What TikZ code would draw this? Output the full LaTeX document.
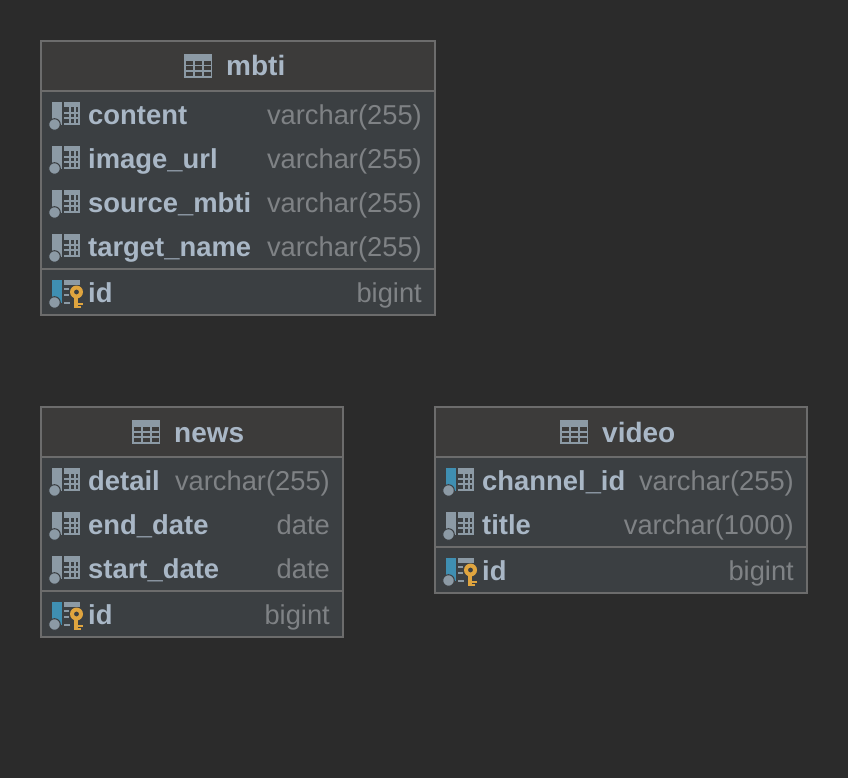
\documentclass[tikz,border=0pt]{standalone}
\usepackage{fontspec}
\setmainfont{Liberation Sans}
\usetikzlibrary{calc}
\definecolor{canvasbg}{HTML}{2B2B2B}
\definecolor{headbg}{HTML}{3C3B3A}
\definecolor{bodybg}{HTML}{3B3F42}
\definecolor{framecol}{HTML}{6C6C6C}
\definecolor{namecol}{HTML}{A9B7C6}
\definecolor{typecol}{HTML}{7F8285}
\definecolor{iconcol}{HTML}{8C9AA5}
\definecolor{flagcol}{HTML}{3F8FB2}
\definecolor{keycol}{HTML}{E0A53F}
\tikzset{%
  tbox/.style={draw=framecol,line width=1.8pt,fill=bodybg,inner sep=0,anchor=north west},
  thead/.style={tbox,fill=headbg},
  rule/.style={draw=framecol,line width=1.8pt},
  title/.style={text=namecol,font=\fontsize{28}{28}\selectfont\bfseries,inner sep=0,anchor=base west},
  cname/.style={text=namecol,font=\fontsize{27.4}{28}\selectfont\bfseries,inner sep=0,anchor=base west},
  ctype/.style={text=typecol,font=\fontsize{27.3}{28}\selectfont,inner sep=0,anchor=base east},
  grid/.pic={
    \fill[iconcol] (0,0) rectangle (28,24);
    \foreach \gx in {1.5,10.5,19.5} \foreach \gy in {7,12.5,18}
      \fill[headbg] (\gx,\gy) rectangle ++(7,3.6);
  },
  colbar/.pic={
    \fill[#1] (-12,-13) rectangle (-2.5,10);
    \filldraw[fill=iconcol,draw=bodybg,line width=1pt] (-9.5,9.5) circle (5.8);
  },
  colgrid/.pic={
    \fill[iconcol] (0,-13) rectangle (16,-7.5);
    \foreach \gy in {-2.7,2.4,7.9} \fill[iconcol] (0,\gy) rectangle (16,\gy+2);
    \foreach \gx in {5,10,14.4} \fill[iconcol] (\gx,-7.5) rectangle (\gx+1.6,10);
  },
  keyrow/.pic={
    \fill[iconcol] (0,-13) rectangle (16,-8);
    \foreach \gy in {-5,1,9} \fill[iconcol] (0,\gy) rectangle (6,\gy+2);
    \fill[bodybg] (4.5,-8) rectangle (19.5,6);
    \fill[keycol] (12.5,-1) circle (6.5);
    \fill[bodybg] (12.5,-1) circle (2.4);
    \fill[keycol] (10.3,4) rectangle (14.3,14.7);
    \fill[keycol] (14,9.5) rectangle (18.5,12.2);
    \fill[keycol] (14,12.8) rectangle (16.5,14.7);
  }
}
\begin{document}
\begin{tikzpicture}[x=1pt,y=-1pt]
  \fill[canvasbg] (0,0) rectangle (848,778);
  \useasboundingbox (0,0) rectangle (848,778);

  % mbti
  \node[tbox,minimum width=394,minimum height=274] (mbti) at (40.1,40.1) {};
  \node[thead,minimum width=394,minimum height=50] (mbtihead) at (40.1,40.1) {};
  \draw[rule] ($(mbti.south west)+(.9,-46.9)$) coordinate (mbtia) -- ($(mbti.south east)+(-.9,-46.9)$) coordinate (mbtib);
  \pic at (184,54) {grid};
  \node[title] (mbtititle) at (226,76) {mbti};
  \foreach \cname/\ctext/\cy in {content/content/115,image/image\_url/159,source/source\_mbti/203,target/target\_name/247} {
    \pic at (64,\cy) {colbar=iconcol};
    \pic at (64,\cy) {colgrid};
    \node[cname] (\cname) at (88,\cy+9.6) {\ctext};
    \node[ctype] (\cname type) at (422,\cy+9.6) {varchar(255)};
  }
  \pic at (64,293) {colbar=flagcol};
  \pic at (64,293) {keyrow};
  \node[cname] (mbtiid) at (88,302.6) {id};
  \node[ctype] (mbtiidtype) at (422,302.6) {bigint};

  % news
  \node[tbox,minimum width=302,minimum height=230] (news) at (40.1,406.1) {};
  \node[thead,minimum width=302,minimum height=50] (newshead) at (40.1,406.1) {};
  \draw[rule] ($(news.south west)+(.9,-46.9)$) coordinate (newsa) -- ($(news.south east)+(-.9,-46.9)$) coordinate (newsb);
  \pic at (132,420) {grid};
  \node[title] (newstitle) at (174,442) {news};
  \foreach \cname/\ctext/\ctyp/\cy in {detail/detail/varchar(255)/481,end/end\_date/date/525,start/start\_date/date/569} {
    \pic at (64,\cy) {colbar=iconcol};
    \pic at (64,\cy) {colgrid};
    \node[cname] (\cname) at (88,\cy+9.6) {\ctext};
    \node[ctype] (\cname type) at (330,\cy+9.6) {\ctyp};
  }
  \pic at (64,615) {colbar=flagcol};
  \pic at (64,615) {keyrow};
  \node[cname] (newsid) at (88,624.6) {id};
  \node[ctype] (newsidtype) at (330,624.6) {bigint};

  % video
  \node[tbox,minimum width=372,minimum height=186] (video) at (434.1,406.1) {};
  \node[thead,minimum width=372,minimum height=50] (videohead) at (434.1,406.1) {};
  \draw[rule] ($(video.south west)+(.9,-46.9)$) coordinate (videoa) -- ($(video.south east)+(-.9,-46.9)$) coordinate (videob);
  \pic at (560,420) {grid};
  \node[title] (videotitle) at (602,442) {video};
  \pic at (458,481) {colbar=flagcol};
  \pic at (458,481) {colgrid};
  \node[cname] (channel) at (482,490.6) {channel\_id};
  \node[ctype] (channeltype) at (794,490.6) {varchar(255)};
  \pic at (458,525) {colbar=iconcol};
  \pic at (458,525) {colgrid};
  \node[cname] (vtitle) at (482,534.6) {title};
  \node[ctype] (vtitletype) at (794,534.6) {varchar(1000)};
  \pic at (458,571) {colbar=flagcol};
  \pic at (458,571) {keyrow};
  \node[cname] (videoid) at (482,580.6) {id};
  \node[ctype] (videoidtype) at (794,580.6) {bigint};
\end{tikzpicture}
\end{document}
